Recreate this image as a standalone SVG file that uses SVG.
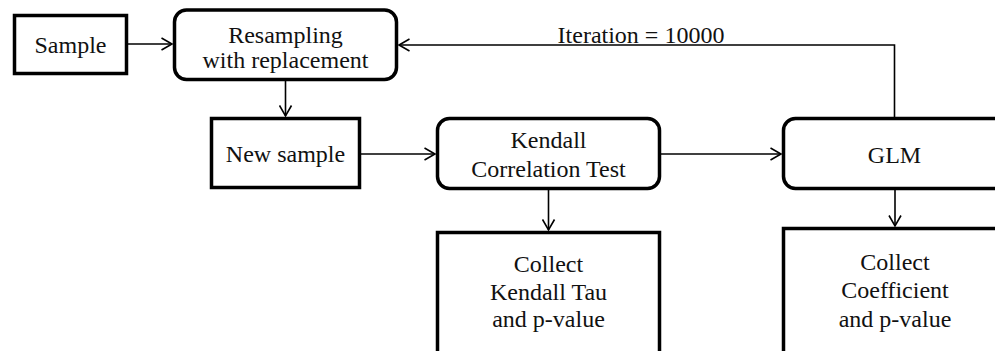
<svg xmlns="http://www.w3.org/2000/svg" width="995" height="351" viewBox="0 0 995 351">
  <style>
    .box { fill: #ffffff; stroke: #000000; stroke-width: 3.5; }
    .lbl { font-family: "Liberation Serif", "Times New Roman", serif; font-size: 24px; fill: #111111; text-anchor: middle; }
    .wire { fill: none; stroke: #000000; stroke-width: 1.6; }
  </style>
  <defs>
    <marker id="open-arrow" markerUnits="userSpaceOnUse" markerWidth="14" markerHeight="14" refX="12" refY="7" orient="auto">
      <path d="M1.5,1 L12,7 L1.5,13" fill="none" stroke="#000000" stroke-width="1.6"/>
    </marker>
  </defs>

  <rect x="0" y="0" width="995" height="351" fill="#ffffff"/>

  <!-- connectors -->
  <g id="connectors">
    <line class="wire" x1="128" y1="44" x2="172" y2="44" marker-end="url(#open-arrow)"/>
    <line class="wire" x1="285.5" y1="81" x2="285.5" y2="116" marker-end="url(#open-arrow)"/>
    <line class="wire" x1="361" y1="154" x2="435" y2="154" marker-end="url(#open-arrow)"/>
    <line class="wire" x1="661" y1="154" x2="781" y2="154" marker-end="url(#open-arrow)"/>
    <polyline class="wire" points="894.5,117 894.5,45 399,45" marker-end="url(#open-arrow)"/>
    <line class="wire" x1="548.5" y1="190" x2="548.5" y2="230" marker-end="url(#open-arrow)"/>
    <line class="wire" x1="895" y1="190" x2="895" y2="226" marker-end="url(#open-arrow)"/>
    <text class="lbl" x="641" y="43">Iteration = 10000</text>
  </g>

  <!-- nodes -->
  <g id="sample">
    <rect class="box" x="14.5" y="15.5" width="112" height="58"/>
    <text class="lbl" x="70.5" y="53">Sample</text>
  </g>

  <g id="resampling">
    <rect class="box" x="174.5" y="10" width="222" height="69.5" rx="12" ry="12"/>
    <text class="lbl" x="285.5" y="43">Resampling</text>
    <text class="lbl" x="285.5" y="68">with replacement</text>
  </g>

  <g id="new-sample">
    <rect class="box" x="211.5" y="118.5" width="148" height="69"/>
    <text class="lbl" x="285.5" y="162">New sample</text>
  </g>

  <g id="kendall">
    <rect class="box" x="437.5" y="118.5" width="222" height="70" rx="12" ry="12"/>
    <text class="lbl" x="548.5" y="148">Kendall</text>
    <text class="lbl" x="548.5" y="177">Correlation Test</text>
  </g>

  <g id="glm">
    <rect class="box" x="783.5" y="118.5" width="240" height="70" rx="12" ry="12"/>
    <text class="lbl" x="894.5" y="163">GLM</text>
  </g>

  <g id="collect-tau">
    <rect class="box" x="437.5" y="232.5" width="222" height="130"/>
    <text class="lbl" x="548.5" y="272">Collect</text>
    <text class="lbl" x="548.5" y="300">Kendall Tau</text>
    <text class="lbl" x="548.5" y="327">and p-value</text>
  </g>

  <g id="collect-coef">
    <rect class="box" x="783.5" y="228.5" width="240" height="134"/>
    <text class="lbl" x="895" y="270">Collect</text>
    <text class="lbl" x="895" y="298">Coefficient</text>
    <text class="lbl" x="895" y="327">and p-value</text>
  </g>
</svg>
